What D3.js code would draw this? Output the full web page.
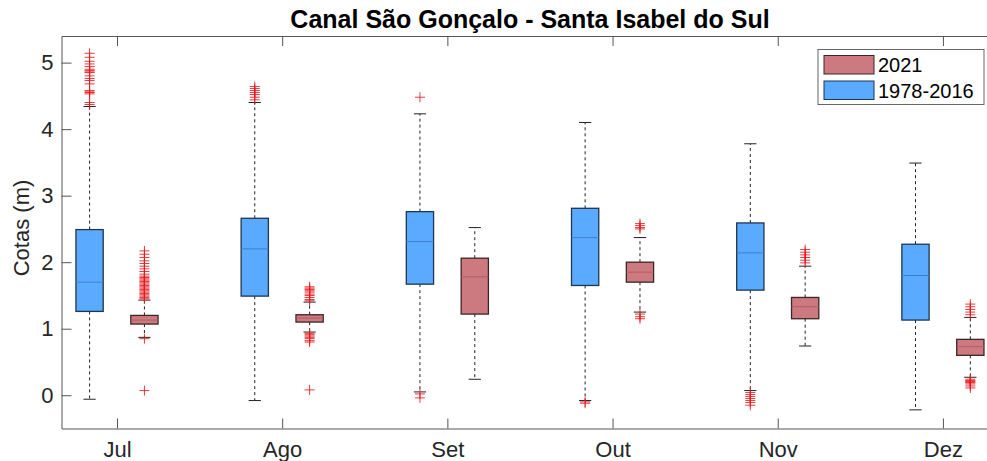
<!DOCTYPE html>
<html>
<head>
<meta charset="utf-8">
<script src="https://cdn.jsdelivr.net/npm/d3@7"></script>
<style>
  body { margin: 0; background: #fff; }
  text { font-family: "Liberation Sans", Arial, sans-serif; fill: #262626; }
</style>
</head>
<body>
<script>
// months on the x axis
var months = ["Jul", "Ago", "Set", "Out", "Nov", "Dez"];
var yTicks = [0, 1, 2, 3, 4, 5];

// 1978-2016 boxes
var histLo  = [-0.06, -0.08, 0.05, -0.08, 0.07, -0.22];
var histQ1  = [1.26, 1.49, 1.67, 1.65, 1.58, 1.13];
var histMed = [1.70, 2.20, 2.31, 2.37, 2.14, 1.80];
var histQ3  = [2.49, 2.66, 2.76, 2.81, 2.59, 2.27];
var histHi  = [4.34, 4.40, 4.23, 4.10, 3.78, 3.49];
var histOut = [
    [5.14, 5.08, 5.02, 4.98, 4.94, 4.90, 4.88, 4.86, 4.85, 4.80, 4.76, 4.73, 4.68, 4.58, 4.56, 4.55, 4.53, 4.40, 4.37],
    [4.64, 4.61, 4.58, 4.55, 4.52, 4.48, 4.44],
    [4.48, 0.02, -0.04],
    [-0.10, -0.12],
    [0.04, 0.01, -0.02, -0.05, -0.08, -0.11, -0.15],
    []
];

// 2021 boxes
var recLo  = [0.87, 0.95, 0.24, 1.25, 0.74, 0.27];
var recQ1  = [1.07, 1.10, 1.22, 1.70, 1.15, 0.60];
var recMed = [1.13, 1.16, 1.78, 1.85, 1.33, 0.73];
var recQ3  = [1.20, 1.21, 2.06, 2.00, 1.47, 0.84];
var recHi  = [1.43, 1.40, 2.52, 2.37, 1.94, 1.17];
var recOut = [
    [2.17, 2.12, 2.07, 2.02, 1.98, 1.94, 1.90, 1.86, 1.82, 1.79, 1.77, 1.75, 1.73, 1.71, 1.69, 1.67, 1.65,
     1.63, 1.61, 1.59, 1.57, 1.55, 1.53, 1.51, 1.49, 1.47, 1.45, 0.85, 0.07],
    [1.63, 1.61, 1.59, 1.57, 1.55, 1.52, 1.50, 1.47, 1.44, 1.42, 0.93, 0.91, 0.89, 0.87, 0.85, 0.82, 0.80, 0.08],
    [],
    [2.58, 2.55, 2.52, 2.50, 1.22, 1.18, 1.15],
    [2.19, 2.15, 2.11, 2.07, 2.03, 1.99],
    [1.37, 1.33, 1.29, 1.25, 1.21, 0.24, 0.22, 0.21, 0.20, 0.19, 0.17, 0.14, 0.11]
];

var W = 987, H = 461;
var plot = {left: 61.5, right: 990, top: 36, bottom: 428.5};

var svg = d3.select("body").append("svg")
    .attr("width", W)
    .attr("height", H);

var x = d3.scaleLinear().domain([0.664, 6.285]).range([plot.left, plot.right]);
var y = d3.scaleLinear().domain([-0.5, 5.4]).range([plot.bottom, plot.top]);

var offset = 0.166, halfBox = 0.0825, halfCap = 0.037;

var series = [
    {name: "1978-2016", dx: -offset, lo: histLo, q1: histQ1, med: histMed, q3: histQ3, hi: histHi, out: histOut,
     fill: "#5aabff", edge: "#1f3550", medColor: "#3f80cc"},
    {name: "2021", dx: offset, lo: recLo, q1: recQ1, med: recMed, q3: recQ3, hi: recHi, out: recOut,
     fill: "#cc7a80", edge: "#3b2628", medColor: "#b55a63"}
];

// axes box
var gAxis = svg.append("g");

gAxis.append("g")
    .attr("transform", "translate(" + plot.left + ",0)")
    .call(d3.axisLeft(y).tickValues(yTicks).tickFormat(d3.format("d"))
        .tickSizeInner(-10).tickSizeOuter(0).tickPadding(8))
    .call(function(g) {
        g.selectAll("text").style("font-size", "22px");
    });

gAxis.append("g")
    .attr("transform", "translate(0," + plot.bottom + ")")
    .call(d3.axisBottom(x).tickValues(d3.range(1, 7)).tickFormat(function(d) { return months[d - 1]; })
        .tickSizeInner(-10).tickSizeOuter(0).tickPadding(13))
    .call(function(g) {
        g.selectAll("text").style("font-size", "22px");
    });

gAxis.append("g")
    .attr("transform", "translate(0," + plot.top + ")")
    .call(d3.axisTop(x).tickValues(d3.range(1, 7)).tickFormat("").tickSizeInner(-10).tickSizeOuter(0));

gAxis.selectAll(".domain, .tick line").attr("stroke", "#555");

// boxes
series.forEach(function(s) {
    var g = svg.append("g");
    months.forEach(function(m, i) {
        var c = i + 1 + s.dx;
        // whiskers
        g.append("line")
            .attr("x1", x(c)).attr("x2", x(c))
            .attr("y1", y(s.q3[i])).attr("y2", y(s.hi[i]))
            .attr("stroke", "#222").attr("stroke-dasharray", "3,3");
        g.append("line")
            .attr("x1", x(c)).attr("x2", x(c))
            .attr("y1", y(s.q1[i])).attr("y2", y(s.lo[i]))
            .attr("stroke", "#222").attr("stroke-dasharray", "3,3");
        [s.lo[i], s.hi[i]].forEach(function(v) {
            g.append("line")
                .attr("x1", x(c - halfCap)).attr("x2", x(c + halfCap))
                .attr("y1", y(v)).attr("y2", y(v))
                .attr("stroke", "#222");
        });
        g.append("rect")
            .attr("x", x(c - halfBox))
            .attr("y", y(s.q3[i]))
            .attr("width", x(c + halfBox) - x(c - halfBox))
            .attr("height", y(s.q1[i]) - y(s.q3[i]))
            .attr("fill", s.fill)
            .attr("stroke", s.edge)
            .attr("stroke-width", 1.3);
        g.append("line")
            .attr("x1", x(c - halfBox)).attr("x2", x(c + halfBox))
            .attr("y1", y(s.med[i])).attr("y2", y(s.med[i]))
            .attr("stroke", s.medColor);
        g.selectAll(null)
            .data(s.out[i])
            .enter()
            .append("path")
            .attr("transform", function(d) { return "translate(" + x(c) + "," + y(d) + ")"; })
            .attr("d", "M-5,0H5M0,-5V5")
            .attr("stroke", "#e8181c")
            .attr("stroke-opacity", 0.85)
            .attr("fill", "none");
    });
});

// title and y label
svg.append("text")
    .attr("x", 530).attr("y", 28)
    .attr("text-anchor", "middle")
    .style("font-size", "25px")
    .style("font-weight", "bold")
    .style("fill", "#000")
    .text("Canal São Gonçalo - Santa Isabel do Sul");

svg.append("text")
    .attr("transform", "translate(29,228) rotate(-90)")
    .attr("text-anchor", "middle")
    .style("font-size", "22px")
    .text("Cotas (m)");

// legend
var leg = svg.append("g").attr("transform", "translate(818,49.5)");
leg.append("rect")
    .attr("width", 166).attr("height", 55)
    .attr("fill", "#fff").attr("stroke", "#666");
var legItems = [series[1], series[0]];
legItems.forEach(function(s, i) {
    leg.append("rect")
        .attr("x", 6).attr("y", 6 + i * 25.5)
        .attr("width", 50).attr("height", 18.5)
        .attr("fill", s.fill).attr("stroke", s.edge);
    leg.append("text")
        .attr("x", 60).attr("y", 22.5 + i * 25.5)
        .style("font-size", "20px")
        .style("fill", "#000")
        .text(s.name);
});
</script>
</body>
</html>
